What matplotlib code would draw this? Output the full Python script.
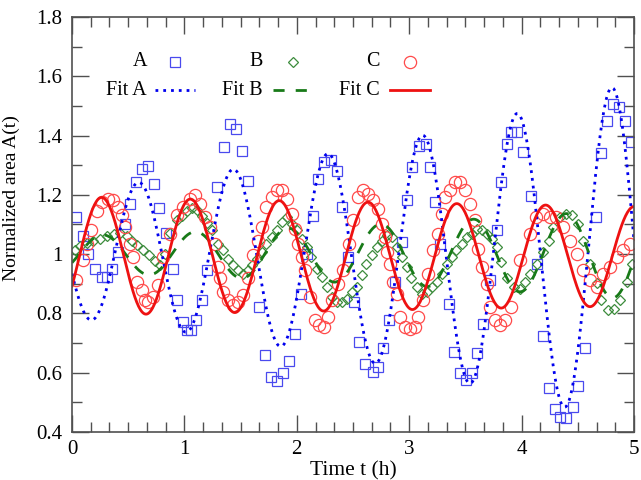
import numpy as np
import matplotlib
matplotlib.use("Agg")
import matplotlib.pyplot as plt
from matplotlib.ticker import MultipleLocator, FormatStrFormatter

# --- data ---
t_a = [0.04, 0.10, 0.145, 0.205, 0.264, 0.31, 0.36, 0.41, 0.47, 0.516, 0.57, 0.62, 0.673, 0.73,
       0.777, 0.836, 0.896, 0.937, 0.99, 1.026, 1.06, 1.10, 1.154, 1.198, 1.287, 1.355, 1.405,
       1.46, 1.51, 1.57, 1.66, 1.72, 1.77, 1.82, 1.875, 1.93, 1.985, 2.035, 2.09, 2.14, 2.19,
       2.24, 2.30, 2.355, 2.405, 2.455, 2.51, 2.556, 2.607, 2.675, 2.725, 2.77, 2.823, 2.874,
       2.933, 2.983, 3.028, 3.087, 3.15, 3.185, 3.23, 3.274, 3.35, 3.40, 3.45, 3.505, 3.556,
       3.60, 3.66, 3.72, 3.78, 3.82, 3.87, 3.91, 3.956, 4.015, 4.084, 4.134, 4.19, 4.24, 4.30,
       4.34, 4.395, 4.455, 4.505, 4.56, 4.66, 4.71, 4.76, 4.81, 4.87, 4.92, 4.97]
a_vals = [1.125, 1.06, 1.00, 0.95, 0.923, 0.923, 0.95, 1.007, 1.10, 1.168, 1.243, 1.288, 1.296,
          1.235, 1.157, 1.071, 0.951, 0.844, 0.771, 0.743, 0.743, 0.777, 0.844, 0.948, 1.228,
          1.36, 1.439, 1.423, 1.349, 1.248, 0.822, 0.659, 0.586, 0.573, 0.598, 0.64, 0.732,
          0.867, 1.002, 1.127, 1.254, 1.31, 1.316, 1.28, 1.159, 0.99, 0.84, 0.704, 0.631, 0.603,
          0.62, 0.682, 0.777, 0.906, 1.041, 1.181, 1.293, 1.366, 1.372, 1.293, 1.175, 1.035,
          0.833, 0.67, 0.598, 0.575, 0.598, 0.665, 0.766, 0.912, 1.08, 1.243, 1.37, 1.413, 1.411,
          1.344, 1.195, 0.968, 0.723, 0.547, 0.476, 0.449, 0.446, 0.483, 0.555, 0.682, 1.125,
          1.34, 1.45, 1.507, 1.495, 1.45, 1.377]

t_b = [0.027, 0.071, 0.13, 0.19, 0.25, 0.31, 0.37, 0.427, 0.487, 0.53, 0.58, 0.634, 0.688, 0.738,
       0.783, 0.83, 0.87, 0.93, 0.976, 1.02, 1.065, 1.11, 1.154, 1.20, 1.243, 1.30, 1.346, 1.39,
       1.435, 1.48, 1.524, 1.57, 1.60, 1.643, 1.69, 1.73, 1.777, 1.82, 1.866, 1.91, 1.955, 2.0,
       2.044, 2.09, 2.13, 2.18, 2.22, 2.266, 2.31, 2.355, 2.40, 2.444, 2.49, 2.533, 2.577, 2.62,
       2.666, 2.71, 2.755, 2.80, 2.844, 2.89, 2.933, 2.977, 3.02, 3.066, 3.11, 3.155, 3.2, 3.245,
       3.29, 3.333, 3.378, 3.42, 3.467, 3.51, 3.556, 3.60, 3.645, 3.69, 3.734, 3.78, 3.82, 3.87,
       3.93, 3.99, 4.03, 4.075, 4.134, 4.19, 4.24, 4.28, 4.34, 4.395, 4.446, 4.505, 4.55, 4.61,
       4.667, 4.71, 4.77, 4.82, 4.875, 4.935, 4.98]
b_vals = [1.015, 1.027, 1.036, 1.045, 1.052, 1.06, 1.069, 1.07, 1.06, 1.046, 1.03, 1.013, 0.996,
          0.976, 0.965, 1.0, 1.07, 1.114, 1.127, 1.147, 1.157, 1.15, 1.127, 1.105, 1.083, 1.035,
          1.013, 0.985, 0.962, 0.945, 0.932, 0.945, 0.962, 0.985, 1.007, 1.035, 1.058, 1.08,
          1.108, 1.125, 1.103, 1.08, 1.052, 1.024, 0.99, 0.951, 0.923, 0.889, 0.856, 0.839,
          0.839, 0.85, 0.872, 0.889, 0.929, 0.968, 0.996, 1.024, 1.046, 1.063, 1.058, 1.024,
          0.99, 0.957, 0.918, 0.889, 0.867, 0.872, 0.889, 0.906, 0.934, 0.968, 0.99, 1.013,
          1.035, 1.058, 1.069, 1.086, 1.082, 1.069, 1.052, 1.024, 0.973, 0.918, 0.889, 0.884,
          0.906, 0.934, 0.968, 1.007, 1.046, 1.091, 1.125, 1.136, 1.131, 1.103, 1.046, 0.968,
          0.901, 0.844, 0.811, 0.816, 0.844, 0.906, 0.968]

t_c = [0.04, 0.10, 0.13, 0.17, 0.22, 0.264, 0.323, 0.367, 0.412, 0.442, 0.472, 0.516, 0.545,
       0.576, 0.62, 0.65, 0.68, 0.723, 0.768, 0.812, 0.872, 0.93, 0.99, 1.05, 1.094, 1.14, 1.183,
       1.228, 1.272, 1.30, 1.317, 1.346, 1.39, 1.435, 1.48, 1.524, 1.57, 1.613, 1.657, 1.687,
       1.73, 1.777, 1.82, 1.866, 1.91, 1.955, 1.984, 2.013, 2.044, 2.073, 2.117, 2.16, 2.20,
       2.24, 2.28, 2.31, 2.37, 2.414, 2.46, 2.503, 2.548, 2.59, 2.636, 2.68, 2.725, 2.755, 2.785,
       2.805, 2.83, 2.86, 2.89, 2.92, 2.963, 3.007, 3.05, 3.08, 3.125, 3.17, 3.215, 3.26, 3.29,
       3.32, 3.363, 3.41, 3.45, 3.496, 3.54, 3.585, 3.615, 3.645, 3.69, 3.72, 3.763, 3.81, 3.85,
       3.91, 3.99, 4.075, 4.13, 4.19, 4.25, 4.31, 4.37, 4.43, 4.49, 4.55, 4.61, 4.67, 4.727,
       4.786, 4.846, 4.905, 4.965]
c_vals = [0.912, 0.979, 1.035, 1.08, 1.147, 1.175, 1.187, 1.181, 1.159, 1.131, 1.091, 1.035, 0.99,
          0.906, 0.878, 0.844, 0.839, 0.856, 0.895, 0.99, 1.069, 1.131, 1.159, 1.187, 1.198, 1.17,
          1.125, 1.091, 1.035, 0.957, 0.918, 0.872, 0.844, 0.828, 0.839, 0.861, 0.918, 0.996,
          1.046, 1.091, 1.159, 1.192, 1.215, 1.215, 1.187, 1.136, 1.086, 1.035, 0.99, 0.945,
          0.856, 0.777, 0.76, 0.755, 0.788, 0.844, 0.9, 0.945, 1.035, 1.114, 1.192, 1.215, 1.204,
          1.181, 1.153, 1.103, 1.058, 1.007, 0.968, 0.906, 0.867, 0.788, 0.755, 0.749, 0.755,
          0.788, 0.844, 0.934, 1.013, 1.069, 1.136, 1.192, 1.215, 1.243, 1.243, 1.215, 1.17,
          1.114, 1.018, 0.957, 0.9, 0.822, 0.777, 0.76, 0.777, 0.822, 0.979, 1.069, 1.125, 1.136,
          1.125, 1.125, 1.091, 1.046, 1.002, 0.945, 0.912, 0.889, 0.934, 0.957, 0.99, 1.013,
          1.035]

# fitted sinusoid parameters (A, B, C)
fit_offset = [1.0, 1.0, 0.993]
fit_amp0 = [0.215, 0.062, 0.20]
fit_growth = [0.20, 0.18, -0.035]
fit_period = [0.842, 0.825, 0.79]
fit_peak_t = [0.59, 0.27, 0.264]

series_names = ["A", "B", "C"]


def fit_curve(t, i):
    """Oscillating fit with exponential amplitude change."""
    amp = fit_amp0[i] * np.exp(fit_growth[i] * t)
    return fit_offset[i] + amp * np.cos(2 * np.pi * (t - fit_peak_t[i]) / fit_period[i])


plt.rcParams['font.family'] = ['Liberation Serif', 'DejaVu Serif']

fig = plt.figure(figsize=(6.41, 4.8), dpi=100)
ax = fig.add_axes([0.1123, 0.1, 0.8768, 0.8646])

# data markers
ax.plot(t_a, a_vals, ls='none', marker='s', ms=7.4, mfc='none', mec='#4a4aee', mew=0.9)
ax.plot(t_b, b_vals, ls='none', marker='D', ms=4.6, mfc='none', mec='#3c8c3c', mew=0.9)
ax.plot(t_c, c_vals, ls='none', marker='o', ms=8.8, mfc='none', mec='#ff4a4a', mew=0.9)

# fit curves
tt = np.linspace(0, 5, 600)
ax.plot(tt, fit_curve(tt, 0), color='#0000ee', lw=2.0, ls=(0, (1, 1.8)))
ax.plot(tt, fit_curve(tt, 1), color='#187a18', lw=2.0, ls=(0, (4, 4)))
ax.plot(tt, fit_curve(tt, 2), color='#ee1111', lw=2.0)

ax.set_xlim(0, 5)
ax.set_ylim(0.4, 1.8)
ax.xaxis.set_major_locator(MultipleLocator(1))
ax.xaxis.set_minor_locator(MultipleLocator(1 / 6))
ax.yaxis.set_major_locator(MultipleLocator(0.2))
ax.yaxis.set_minor_locator(MultipleLocator(0.1))
ax.yaxis.set_major_formatter(FormatStrFormatter('%g'))
ax.tick_params(which='both', direction='in', top=True, right=True, color='#505050', width=1.0,
               labelsize=15)
ax.tick_params(axis='x', pad=6)
ax.tick_params(axis='y', pad=7)
ax.tick_params(which='major', length=12)
ax.tick_params(which='minor', length=7)
for sp in ax.spines.values():
    sp.set_color('#505050')
    sp.set_linewidth(1.2)

ax.set_xlabel("Time t (h)", fontsize=15.5)
ax.set_ylabel("Normalized area A(t)", fontsize=14)
ax.xaxis.set_label_coords(0.5, -0.07)
ax.yaxis.set_label_coords(-0.093, 0.563)

# gnuplot style key: labels right aligned, sample to the right
key_text_x = [0.1335, 0.340, 0.548]
key_line_x = [(0.148, 0.219), (0.358, 0.427), (0.566, 0.637)]
key_rows = [0.8916, 0.824]
mark_style = [dict(marker='s', ms=7.4, mec='#4a4aee'), dict(marker='D', ms=4.6, mec='#3c8c3c'),
              dict(marker='o', ms=8.8, mec='#ff4a4a')]
line_style = [dict(color='#0000ee', ls=(0, (1, 1.8))), dict(color='#187a18', ls=(0, (4, 4))),
              dict(color='#ee1111', ls='-')]
for i, name in enumerate(series_names):
    ax.text(key_text_x[i], key_rows[0], name, transform=ax.transAxes, ha='right', va='center',
            fontsize=14.5)
    ax.text(key_text_x[i], key_rows[1], "Fit " + name, transform=ax.transAxes, ha='right',
            va='center', fontsize=14.5)
    x0, x1 = key_line_x[i]
    ax.plot([(x0 + x1) / 2], [key_rows[0]], transform=ax.transAxes, ls='none', mfc='none',
            mew=0.9, **mark_style[i])
    ax.plot([x0, x1], [key_rows[1]] * 2, transform=ax.transAxes, lw=2.0, **line_style[i])

fig.savefig("out.png", dpi=100)
